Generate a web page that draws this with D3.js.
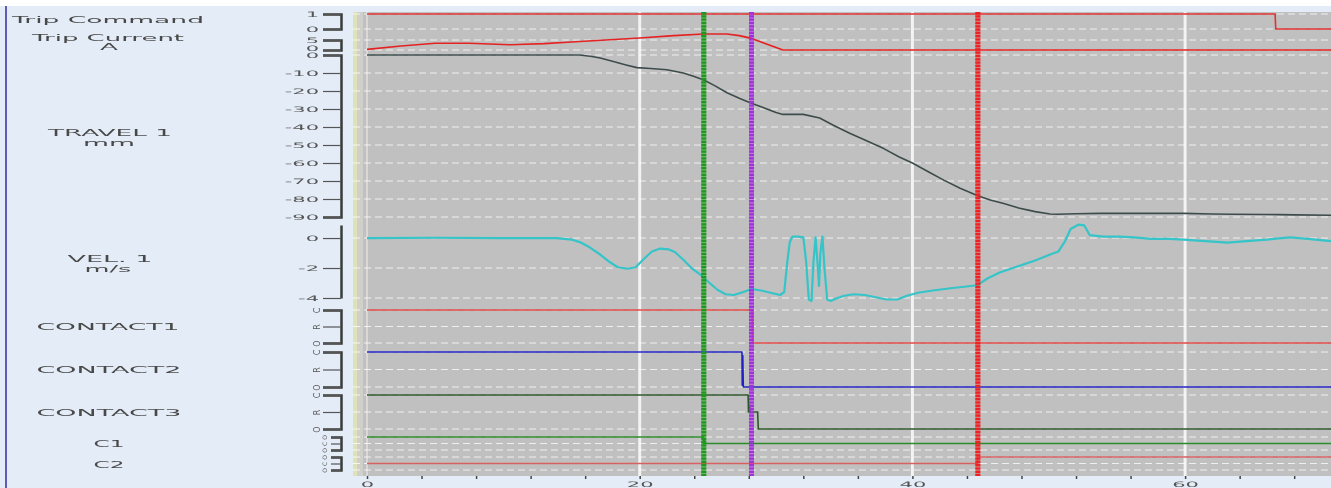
<!DOCTYPE html>
<html>
<head>
<meta charset="utf-8">
<script src="https://cdn.jsdelivr.net/npm/d3@7"></script>
<style>
body { margin: 0; background: #fff; overflow: hidden; }
svg { display: block; }
.tick text { font-family: "DejaVu Sans", sans-serif; fill: #555; }
</style>
</head>
<body>
<div id="chart"></div>
<script>
// time axis (ms)
const timeTicks = [0, 4, 8, 12, 16, 20, 24, 28, 32, 36, 40, 44, 48, 52, 56, 60, 64, 68];
const timeLabels = [0, 20, 40, 60];
const timeMax = 70.7;

// channel names
const channelLabels = ["Trip Command", "Trip Current", "A", "TRAVEL 1", "mm", "VEL. 1", "m/s",
    "CONTACT1", "CONTACT2", "CONTACT3", "C1", "C2"];

// y ticks
const cmdTicks = [0, 1];
const currentTicks = [0, 5];
const travelTicks = [-90, -80, -70, -60, -50, -40, -30, -20, -10, 0];
const velTicks = [-4, -2, 0];
const contactTicks = [0, 1, 2];
const contactTickLabels = ["O", "R", "C"];
const auxTicks = [-1, 0, 1];
const auxTickLabels = ["O", "C", "O"];

// markers (ms)
const markerTimes = [24.7, 28.2, 44.8];
const markerColors = ["#1d9a1d", "#a52ee0", "#ee2222"];

// series [t, value]
const tripCommand = [[0, 1], [66.6, 1], [66.65, 0], [70.7, 0]];
const tripCurrent = [[0, 0.3], [2.5, 2], [5, 3.4], [7.5, 3.4], [10.5, 2.6], [13, 3.2], [15, 4], [17.5, 5],
    [20, 6], [22.5, 7.2], [24.7, 8], [26.4, 8], [27.3, 7.2], [28.2, 5.8], [29.3, 3], [30.5, 0], [70.7, 0]];
const travel = [[0, 0], [10, 0], [15.6, 0], [16.5, -0.8], [17.1, -1.7], [18, -3.5], [19, -5.5], [19.8, -7],
    [20.8, -7.5], [22, -8.2], [23.2, -10], [24, -12], [24.7, -13.9], [25.5, -17], [26.4, -21], [27.3, -24],
    [28.1, -26.5], [29, -29], [30, -32], [30.5, -33], [32, -33], [33.2, -35], [34.2, -39], [35.4, -43.5],
    [36.6, -47.5], [37.9, -52], [39, -56.5], [40, -60], [41.2, -65], [42.3, -69.5], [43.5, -74], [44.75, -78],
    [45.7, -80.5], [46.7, -82.5], [47.8, -85], [49, -87], [50.1, -88.3], [50.6, -88.5], [52, -88.2],
    [53.8, -88], [57, -88], [59.9, -88], [62, -88.3], [63.5, -88.5], [66, -88.6], [68, -88.8], [70.7, -89]];
const velocity = [[0, 0], [5, 0.02], [10, 0], [13.9, 0], [15, -0.1], [15.6, -0.27], [16.3, -0.6], [17.1, -1.1],
    [17.8, -1.6], [18.4, -1.95], [19.1, -2.05], [19.7, -1.95], [20.3, -1.4], [20.9, -0.9], [21.5, -0.7],
    [22.1, -0.75], [22.6, -0.95], [23.2, -1.45], [23.8, -2.0], [24.4, -2.4], [25.0, -2.9], [25.7, -3.45],
    [26.3, -3.75], [26.9, -3.8], [27.6, -3.6], [28.2, -3.4], [28.9, -3.5], [29.6, -3.65], [30.3, -3.8],
    [30.6, -3.6], [30.8, -1.8], [31.0, -0.3], [31.2, 0.1], [31.6, 0.1], [32.0, 0.05], [32.2, -1.5],
    [32.4, -4.1], [32.6, -4.2], [32.75, -1.5], [32.9, 0.05], [33.05, -1.8], [33.15, -3.2], [33.25, -1.0],
    [33.4, 0.1], [33.55, -2.0], [33.75, -4.1], [34.0, -4.2], [34.5, -4.0], [35.0, -3.85], [35.7, -3.75],
    [36.5, -3.8], [37.3, -3.95], [38.1, -4.1], [38.9, -4.1], [39.6, -3.85], [40.4, -3.65], [41.5, -3.5],
    [42.8, -3.35], [43.8, -3.25], [44.75, -3.15], [45.5, -2.7], [46.4, -2.3], [47.7, -1.9], [49.0, -1.5],
    [50.1, -1.1], [50.7, -0.9], [51.2, -0.2], [51.6, 0.6], [52.2, 0.9], [52.6, 0.85], [53.0, 0.2], [54.0, 0.1],
    [55.2, 0.1], [56.2, 0.05], [57.5, -0.05], [58.8, -0.05], [59.9, -0.1], [61.5, -0.2], [63.1, -0.3],
    [64.5, -0.2], [66.0, -0.1], [67.7, 0.05], [69.0, -0.05], [70.7, -0.2]];
const contact1 = [[0, 2], [28.25, 2], [28.28, 0], [70.7, 0]];
const contact2 = [[0, 2], [27.5, 2], [27.52, 0.1], [27.56, 1.8], [27.6, 0], [70.7, 0]];
const contact3 = [[0, 2], [27.95, 2], [27.98, 1], [28.05, 1.4], [28.1, 1], [28.65, 1], [28.7, 0], [70.7, 0]];
const c1 = [[0, 1], [24.65, 1], [24.7, 0], [24.75, 0.6], [24.8, 0], [70.7, 0]];
const c2 = [[0, 0], [44.75, 0], [44.8, 1], [70.7, 1]];

const W = 1331, H = 488;
const plot = { left: 353, right: 1331, top: 12, bottom: 476 };
const axisX = 341;
const stretch = 2.8;

const svg = d3.select("#chart").append("svg").attr("width", W).attr("height", H);
const defs = svg.append("defs");
defs.append("filter").attr("id", "soft").append("feGaussianBlur").attr("stdDeviation", 0.35);

const root = svg.append("g").attr("filter", "url(#soft)");

root.append("rect").attr("width", W).attr("height", H).attr("fill", "#fff");
root.append("rect").attr("y", 6).attr("width", W).attr("height", H - 6).attr("fill", "#e4edf7");
root.append("line").attr("x1", 6).attr("x2", 6).attr("y1", 6).attr("y2", H)
    .attr("stroke", "#5b5bb5").attr("stroke-width", 2);

// plot background
root.append("rect").attr("x", plot.left).attr("y", plot.top)
    .attr("width", plot.right - plot.left).attr("height", plot.bottom - plot.top).attr("fill", "#c0c0c0");
root.append("rect").attr("x", plot.left).attr("y", plot.top).attr("width", 4)
    .attr("height", plot.bottom - plot.top).attr("fill", "#dfe2b6");
root.append("rect").attr("x", plot.left + 4).attr("y", plot.top).attr("width", 6)
    .attr("height", plot.bottom - plot.top).attr("fill", "#cfd0c9");

const x = d3.scaleLinear().domain([0, timeMax]).range([367, 1331]);

const panels = [
    { domain: [0, 1], range: [29, 14], ticks: cmdTicks, outer: 18 },
    { domain: [0, 5], range: [50, 40], ticks: currentTicks, outer: 18 },
    { domain: [-90, 0], range: [217, 55], ticks: travelTicks, outer: 18 },
    { domain: [-4, 0.87], range: [298, 225], ticks: velTicks, outer: 0 },
    { domain: [0, 2], range: [343, 310], ticks: contactTicks, labels: contactTickLabels, outer: 18 },
    { domain: [0, 2], range: [387, 352], ticks: contactTicks, labels: contactTickLabels, outer: 18 },
    { domain: [0, 2], range: [429, 395], ticks: contactTicks, labels: contactTickLabels, outer: 18 },
    { domain: [-1, 1], range: [450, 437], ticks: auxTicks, labels: auxTickLabels, outer: 10 },
    { domain: [-1, 1], range: [470, 457], ticks: auxTicks, labels: auxTickLabels, outer: 10 }
];
panels.forEach(p => { p.y = d3.scaleLinear().domain(p.domain).range(p.range); });

// horizontal dashed grid
const grid = root.append("g");
panels.forEach(p => {
    grid.selectAll(null).data(p.ticks).enter().append("line")
        .attr("x1", plot.left).attr("x2", plot.right)
        .attr("y1", d => p.y(d)).attr("y2", d => p.y(d))
        .attr("stroke", "#fff").attr("stroke-opacity", 0.75)
        .attr("stroke-dasharray", "7,4").attr("stroke-width", 1);
});
// vertical grid
grid.selectAll(null).data(timeLabels).enter().append("line")
    .attr("x1", d => x(d)).attr("x2", d => x(d))
    .attr("y1", plot.top).attr("y2", plot.bottom)
    .attr("stroke", "#fff").attr("stroke-opacity", d => d === 0 ? 0.5 : 0.8)
    .attr("stroke-width", d => d === 0 ? 1.5 : 3);

// widen a text horizontally (the source picture is stretched sideways)
function widen(sel) {
    sel.each(function () {
        const w = this.getComputedTextLength();
        if (w > 0) d3.select(this).attr("textLength", w * stretch).attr("lengthAdjust", "spacingAndGlyphs");
    });
}

// left axes
panels.forEach((p, pi) => {
    const small = p.outer === 10;
    const ax = d3.axisLeft(p.y).tickValues(p.ticks).tickSize(small ? 10 : 18)
        .tickSizeOuter(p.outer).tickPadding(4)
        .tickFormat((d, i) => p.labels ? p.labels[i] : d);
    const g = root.append("g").attr("transform", `translate(${axisX},0)`).call(ax);
    g.select(".domain").attr("stroke", "#3a3a3a").attr("stroke-width", 2.5);
    g.selectAll(".tick line").attr("stroke", "#555").attr("stroke-width", 1.2);
    g.selectAll(".tick text").attr("font-size", 7.5);
    if (p.labels) {
        const off = small ? -16 : -24;
        g.selectAll(".tick text").attr("x", off).attr("dy", "0.35em").attr("text-anchor", "middle")
            .attr("font-size", small ? 6 : 8)
            .attr("transform", `rotate(-90,${off},0)`);
    } else {
        // trip current zero sits just above the travel zero
        g.selectAll(".tick text")
            .attr("dy", d => (pi === 1 && d === 0) ? "0.05em" : "0.32em")
            .call(widen);
    }
});

// bottom axis
const xa = root.append("g").attr("transform", `translate(0,${plot.bottom})`)
    .call(d3.axisBottom(x).tickValues(timeTicks).tickSize(3).tickPadding(3)
        .tickFormat(d => timeLabels.includes(d) ? d : ""));
xa.select(".domain").remove();
xa.selectAll(".tick line").attr("stroke", "#444").attr("stroke-width", 1.5);
xa.selectAll(".tick text").attr("font-size", 7.5).call(widen);

// series
const series = [
    { data: tripCommand, p: 0, color: "#e03030", w: 1.6 },
    { data: tripCurrent, p: 1, color: "#e42222", w: 1.6 },
    { data: travel, p: 2, color: "#3e4c4c", w: 1.6 },
    { data: velocity, p: 3, color: "#34c4c8", w: 2.2 },
    { data: contact1, p: 4, color: "#e24848", w: 1.6 },
    { data: contact2, p: 5, color: "#2424c4", w: 1.6 },
    { data: contact3, p: 6, color: "#2c572c", w: 1.6 },
    { data: c1, p: 7, color: "#2a8c2a", w: 1.6 },
    { data: c2, p: 8, color: "#d86060", w: 1.6 }
];
series.forEach(s => {
    const y = panels[s.p].y;
    root.append("path").datum(s.data)
        .attr("fill", "none").attr("stroke", s.color).attr("stroke-width", s.w)
        .attr("stroke-linejoin", "round")
        .attr("d", d3.line().x(d => x(d[0])).y(d => y(d[1])));
});

// cursors
markerTimes.forEach((t, i) => {
    root.append("line").attr("x1", x(t)).attr("x2", x(t)).attr("y1", plot.top).attr("y2", plot.bottom)
        .attr("stroke", markerColors[i]).attr("stroke-opacity", 0.45).attr("stroke-width", 5);
    root.append("line").attr("x1", x(t)).attr("x2", x(t)).attr("y1", plot.top).attr("y2", plot.bottom)
        .attr("stroke", markerColors[i]).attr("stroke-width", 5).attr("stroke-dasharray", "2.2,1.1");
});

// channel names
const labelPos = [
    [108, 20, 192, 9.5], [108, 37.5, 152, 8.5], [109, 46.5, 18, 8.5], [110, 133, 124, 9.5], [109, 142.5, 52, 9],
    [110, 259, 85, 9.5], [108, 268.5, 47, 9], [108, 327, 143, 9.5], [109, 370, 145, 9.5], [109, 413, 145, 9.5],
    [109, 444, 31, 9.5], [109, 465, 31, 9.5]
];
root.append("g").selectAll("text").data(channelLabels).enter().append("text")
    .attr("x", (d, i) => labelPos[i][0] - labelPos[i][2] / 2)
    .attr("y", (d, i) => labelPos[i][1] + labelPos[i][3] * 0.36)
    .attr("textLength", (d, i) => labelPos[i][2])
    .attr("lengthAdjust", "spacingAndGlyphs")
    .attr("font-family", "DejaVu Sans, sans-serif").attr("font-size", (d, i) => labelPos[i][3])
    .attr("fill", "#4a4a4a")
    .text(d => d);
</script>
</body>
</html>
